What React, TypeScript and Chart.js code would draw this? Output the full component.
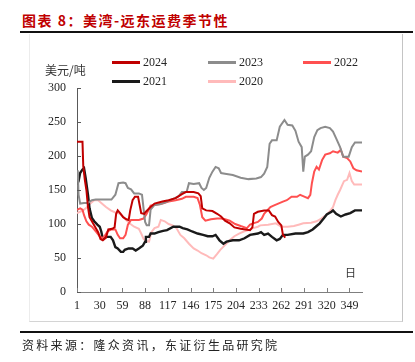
import React, { useEffect, useRef } from "react";
import { Chart, registerables } from "chart.js";

Chart.register(...registerables);

const xTickLabels = [1, 30, 59, 88, 117, 146, 175, 204, 233, 262, 291, 320, 349];
const yTickLabels = [0, 50, 100, 150, 200, 250, 300];
const seriesNames = ["2024", "2023", "2022", "2021", "2020"];
const seriesColors = ["#C00000", "#8C8C8C", "#FF5050", "#1A1A1A", "#FFBABA"];

const days2024 = [1, 8, 9, 11, 13, 15, 17, 20, 24, 28, 31, 34, 38, 41, 46, 49, 51, 53, 56, 60, 64, 67, 69, 72, 75, 79, 81, 83, 87, 89, 95, 100, 110, 118, 127, 135, 140, 150, 156, 159, 161, 166, 174, 180, 185, 190, 196, 202, 210, 222, 225, 227, 232, 240, 246, 250, 254, 258, 262, 264, 267];
const values2024 = [221, 221, 185, 165, 150, 125, 110, 104, 96, 88, 78, 76, 80, 92, 93, 95, 115, 120, 116, 110, 107, 106, 120, 135, 140, 140, 128, 116, 115, 118, 125, 130, 133, 135, 138, 144, 147, 147, 145, 141, 123, 120, 119, 115, 111, 105, 101, 95, 93, 91, 95, 115, 118, 120, 120, 113, 111, 103, 98, 84, 80];

const days2023 = [1, 2, 3, 5, 10, 15, 20, 25, 35, 45, 50, 54, 60, 63, 66, 70, 74, 80, 84, 86, 88, 90, 93, 95, 100, 107, 114, 120, 126, 131, 135, 141, 144, 150, 157, 160, 163, 166, 170, 174, 178, 182, 185, 190, 200, 210, 220, 230, 236, 240, 244, 247, 250, 256, 260, 266, 270, 276, 280, 284, 288, 290, 292, 296, 300, 304, 308, 312, 318, 324, 328, 332, 337, 341, 348, 352, 356, 365];
const values2023 = [168, 179, 143, 130, 131, 131, 135, 136, 136, 136, 143, 160, 161, 160, 153, 151, 145, 145, 143, 123, 103, 98, 98, 121, 128, 129, 132, 135, 138, 141, 147, 147, 160, 159, 160, 153, 150, 153, 168, 177, 184, 182, 175, 174, 172, 168, 166, 167, 169, 174, 184, 218, 223, 223, 243, 253, 246, 245, 237, 221, 213, 177, 199, 202, 207, 228, 238, 241, 243, 241, 236, 226, 213, 199, 199, 213, 220, 220];

const days2022 = [1, 5, 8, 10, 13, 16, 20, 25, 30, 33, 36, 40, 45, 50, 53, 56, 60, 63, 66, 70, 80, 86, 90, 95, 100, 110, 118, 127, 135, 140, 150, 155, 158, 161, 165, 172, 180, 185, 190, 196, 203, 210, 218, 222, 226, 232, 237, 240, 244, 248, 252, 258, 264, 269, 275, 282, 286, 292, 296, 299, 301, 304, 307, 310, 314, 318, 324, 328, 334, 338, 341, 346, 350, 354, 358, 365];
const values2022 = [121, 123, 121, 113, 104, 99, 96, 89, 82, 79, 82, 89, 92, 92, 84, 79, 79, 84, 99, 106, 106, 108, 115, 127, 128, 130, 133, 135, 137, 140, 140, 138, 128, 110, 105, 107, 108, 108, 107, 105, 100, 97, 94, 99, 101, 103, 108, 115, 120, 125, 127, 130, 133, 135, 140, 140, 143, 140, 138, 143, 160, 177, 184, 180, 194, 202, 204, 207, 205, 209, 199, 197, 192, 182, 179, 177];

const days2021 = [1, 3, 5, 8, 10, 12, 15, 17, 20, 23, 27, 30, 32, 34, 38, 44, 47, 50, 53, 57, 60, 62, 67, 72, 76, 80, 85, 88, 89, 93, 95, 100, 105, 111, 116, 124, 132, 136, 142, 148, 155, 162, 168, 174, 178, 183, 188, 192, 200, 208, 215, 222, 232, 236, 240, 245, 250, 256, 260, 264, 270, 280, 290, 296, 302, 306, 311, 316, 320, 326, 328, 332, 338, 344, 350, 356, 365];
const values2021 = [158, 163, 175, 180, 182, 168, 143, 123, 109, 104, 99, 96, 89, 78, 81, 81, 76, 66, 64, 59, 59, 62, 64, 64, 61, 64, 68, 74, 81, 81, 86, 86, 88, 90, 91, 96, 96, 94, 92, 89, 86, 84, 82, 82, 84, 76, 71, 74, 76, 76, 79, 84, 86, 88, 84, 86, 81, 76, 78, 84, 84, 86, 86, 88, 92, 96, 101, 108, 114, 118, 120, 115, 111, 114, 116, 120, 120];

const days2020 = [1, 5, 10, 14, 18, 23, 28, 32, 38, 44, 50, 56, 62, 68, 74, 80, 83, 86, 89, 93, 96, 100, 105, 108, 113, 118, 123, 128, 133, 138, 144, 150, 155, 160, 166, 170, 175, 180, 184, 190, 196, 202, 208, 214, 220, 226, 232, 235, 245, 255, 262, 270, 278, 284, 290, 300, 307, 313, 320, 324, 328, 331, 334, 337, 340, 342, 346, 349, 352, 355, 365];
const values2020 = [116, 118, 121, 125, 130, 135, 135, 131, 125, 120, 117, 115, 108, 101, 96, 93, 86, 78, 75, 74, 88, 94, 96, 106, 104, 100, 98, 94, 84, 79, 71, 64, 61, 57, 54, 51, 49, 56, 62, 69, 76, 82, 86, 89, 91, 94, 96, 98, 99, 101, 96, 96, 97, 99, 101, 102, 104, 108, 114, 119, 125, 135, 143, 150, 158, 163, 165, 175, 163, 158, 158];

const seriesDays = [days2024, days2023, days2022, days2021, days2020];
const seriesValues = [values2024, values2023, values2022, values2021, values2020];

const SERIF = "'Liberation Serif', 'Times New Roman', serif";
const CJK = "'Noto Sans CJK SC', sans-serif";

const inwardTicks = {
  id: "inwardTicks",
  afterDraw(chart: any) {
    const { ctx, chartArea, scales } = chart;
    ctx.save();
    ctx.lineWidth = 1;
    ctx.strokeStyle = "#7f7f7f";
    scales.x.ticks.forEach((t: any) => {
      const px = Math.round(scales.x.getPixelForValue(t.value)) + 0.5;
      ctx.beginPath();
      ctx.moveTo(px, chartArea.bottom);
      ctx.lineTo(px, chartArea.bottom - 4);
      ctx.stroke();
    });
    ctx.strokeStyle = "#595959";
    scales.y.ticks.forEach((t: any) => {
      const py = Math.round(scales.y.getPixelForValue(t.value)) + 0.5;
      ctx.beginPath();
      ctx.moveTo(chartArea.left, py);
      ctx.lineTo(chartArea.left + 4, py);
      ctx.stroke();
    });
    ctx.restore();
  },
};

export default function App() {
  const ref = useRef<HTMLCanvasElement>(null);

  useEffect(() => {
    if (!ref.current) return;
    const datasets = seriesNames.map((name, i) => ({
      label: name,
      data: seriesDays[i].map((d, j) => ({ x: d, y: seriesValues[i][j] })),
      borderColor: seriesColors[i],
      backgroundColor: seriesColors[i],
      borderWidth: i === 3 ? 2.4 : 2,
      pointRadius: 0,
      tension: 0,
      fill: false,
    }));
    const chart = new Chart(ref.current, {
      type: "line",
      data: { datasets },
      options: {
        responsive: false,
        animation: false,
        layout: { padding: { left: 30, right: 53, top: 88, bottom: 40 } },
        plugins: { legend: { display: false }, tooltip: { enabled: false }, title: { display: false } },
        scales: {
          x: {
            type: "linear",
            min: 1,
            max: 365,
            afterBuildTicks: (s: any) => {
              s.ticks = xTickLabels.map((v) => ({ value: v }));
            },
            afterFit: (s: any) => {
              s.height = 30;
            },
            ticks: {
              autoSkip: false,
              maxRotation: 0,
              padding: 7,
              color: "#262626",
              font: { family: SERIF, size: 12 },
            },
            grid: { display: true, drawOnChartArea: false, drawTicks: false },
            border: { display: true, color: "#7f7f7f", width: 1 },
          },
          y: {
            min: 0,
            max: 300,
            afterBuildTicks: (s: any) => {
              s.ticks = yTickLabels.map((v) => ({ value: v }));
            },
            afterFit: (s: any) => {
              s.width = 47;
            },
            ticks: {
              padding: 11,
              color: "#262626",
              font: { family: SERIF, size: 12 },
            },
            grid: { display: true, drawOnChartArea: false, drawTicks: false },
            border: { display: true, color: "#595959", width: 1 },
          },
        },
      },
      plugins: [inwardTicks],
    } as any);
    return () => chart.destroy();
  }, []);

  const legendCols = [112, 208, 303];
  const legendRows = [62, 81];

  return (
    <div style={{ position: "fixed", left: 0, top: 0, width: 415, height: 362, background: "#fff", overflow: "hidden" }}>
      <div style={{ position: "absolute", left: 22, top: 10, lineHeight: "18px", font: `bold 14px ${CJK}`, color: "#C00000", letterSpacing: "1.5px", whiteSpace: "nowrap" }}>
        图表 8：美湾-远东运费季节性
      </div>
      <div style={{ position: "absolute", left: 20, top: 31, width: 393, height: 1.5, background: "#111" }} />
      <div style={{ position: "absolute", left: 29, top: 34, width: 372, height: 287, borderLeft: "1px solid #ececec", borderRight: "1px solid #c4c4c4", borderBottom: "1px solid #d4d4d4" }} />
      <canvas ref={ref} width={415} height={362} style={{ position: "absolute", left: 0, top: 0, width: 415, height: 362 }} />
      <div style={{ position: "absolute", left: 45, top: 61, lineHeight: "14px", font: `12px ${CJK}`, color: "#333", whiteSpace: "nowrap" }}>美元/吨</div>
      <div style={{ position: "absolute", left: 345, top: 264, lineHeight: "12px", font: `11px ${CJK}`, color: "#333" }}>日</div>
      {seriesNames.map((name, i) => {
        const col = legendCols[i % 3];
        const row = legendRows[Math.floor(i / 3)];
        return (
          <React.Fragment key={name}>
            <div style={{ position: "absolute", left: col, top: row - 1, width: 28, height: 2.5, background: seriesColors[i] }} />
            <div style={{ position: "absolute", left: col + 31, top: row - 7, lineHeight: "14px", font: `12px ${SERIF}`, color: "#262626" }}>{name}</div>
          </React.Fragment>
        );
      })}
      <div style={{ position: "absolute", left: 20, top: 331, width: 393, height: 1.5, background: "#111" }} />
      <div style={{ position: "absolute", left: 22, top: 336, lineHeight: "14px", font: `12px ${CJK}`, color: "#222", letterSpacing: "2.3px", whiteSpace: "nowrap" }}>
        资料来源：隆众资讯，东证衍生品研究院
      </div>
    </div>
  );
}
